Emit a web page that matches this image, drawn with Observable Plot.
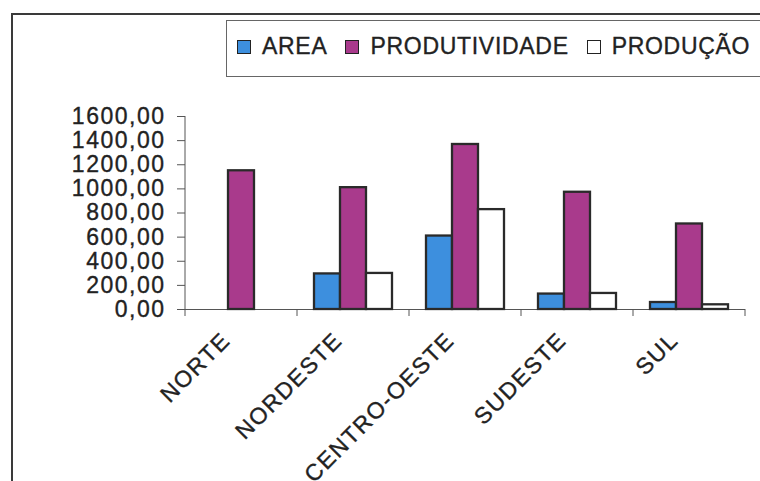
<!DOCTYPE html>
<html>
<head>
<meta charset="utf-8">
<script src="https://cdn.jsdelivr.net/npm/d3@7"></script>
<script src="https://cdn.jsdelivr.net/npm/@observablehq/plot@0.6"></script>
<style>
  html, body { margin: 0; padding: 0; background: #fff; }
  body { width: 760px; height: 481px; position: relative; overflow: hidden; font-family: "Liberation Sans", Arial, sans-serif; }
  #frame { position: absolute; left: 11px; top: 13px; width: 900px; height: 700px; border: 2px solid #3a3a3a; box-sizing: border-box; }
  #chart { position: absolute; left: 0; top: 0; }
  #chart svg text { letter-spacing: 1.5px; fill: #222; stroke: #222; stroke-width: 0.35px; }
  #chart g[aria-label="y-axis tick label"] { font-size: 23px; }
  #chart g[aria-label="fx-axis tick label"] { font-size: 23px; }
  #legend { position: absolute; left: 226px; top: 20px; width: 700px; height: 57px; border: 1px solid #666; box-sizing: border-box; background: #fff;
            display: flex; align-items: center; padding-left: 10px; padding-bottom: 5px; font-size: 23px; letter-spacing: 0.7px; color: #222;
            -webkit-text-stroke: 0.35px #222; }
  .item { display: flex; align-items: center; margin-right: 18px; }
  .sw { width: 14px; height: 14px; border: 1.5px solid #222; box-sizing: border-box; margin-right: 11px; margin-top: 2px; }
</style>
</head>
<body>
<div id="frame"></div>
<div id="chart"></div>
<div id="legend"></div>
<script>
const regions = ["NORTE", "NORDESTE", "CENTRO-OESTE", "SUDESTE", "SUL"];
const series = ["AREA", "PRODUTIVIDADE", "PRODUÇÃO"];
const colors = ["#3d8fde", "#a93a8c", "#ffffff"];
const area = [null, 295, 609, 128, 58];
const produtividade = [1150, 1010, 1368, 972, 709];
const producao = [null, 299, 828, 133, 39];
const yTicks = [0, 200, 400, 600, 800, 1000, 1200, 1400, 1600];

const values = [area, produtividade, producao];
const data = [];
regions.forEach((r, i) => series.forEach((s, j) => data.push({region: r, series: s, value: values[j][i]})));

const fmt = d => d3.format(".2f")(d).replace(".", ",");

const plot = Plot.plot({
  width: 760,
  height: 481,
  marginLeft: 183,
  marginRight: 14,
  marginTop: 116,
  marginBottom: 172,
  style: {fontFamily: "'Liberation Sans', Arial, sans-serif", color: "#222", background: "transparent"},
  fx: {domain: regions, padding: 0, axis: null},
  x: {domain: series, paddingInner: 0, paddingOuter: 0.58, axis: null},
  y: {domain: [0, 1600], axis: null},
  color: {domain: series, range: colors},
  marks: [
    Plot.ruleY([0], {stroke: "#555", strokeWidth: 1}),
    Plot.barY(data.filter(d => d.value != null), {fx: "region", x: "series", y: "value", fill: "series", stroke: "#2a2a2a", strokeWidth: 2.3}),
    Plot.axisY({ticks: yTicks, tickFormat: fmt, tickSize: 8, tickPadding: 12, fontSize: 23, stroke: "#555", label: null}),
    Plot.axisFx({anchor: "bottom", tickRotate: -45, tickSize: 0, tickPadding: 22, dx: -15, dy: 5, fontSize: 23, label: null})
  ]
});

// Excel-style category boundary ticks and value-axis line, from the library's scales
const fxs = plot.scale("fx");
const ys = plot.scale("y");
const y0 = ys.apply(0);
const yTop = ys.apply(yTicks[yTicks.length - 1]);
const bounds = regions.map(r => fxs.apply(r)).concat([fxs.apply(regions[regions.length - 1]) + fxs.bandwidth]);
const svg = d3.select(plot.tagName.toLowerCase() === "svg" ? plot : plot.querySelector("svg"));
const g = svg.append("g");
g.selectAll("line.b").data(bounds).join("line").attr("class", "b")
  .attr("x1", d => d).attr("x2", d => d)
  .attr("y1", y0).attr("y2", y0 + 7)
  .attr("stroke", "#555").attr("stroke-width", 1);
g.append("line")
  .attr("x1", bounds[0]).attr("x2", bounds[0])
  .attr("y1", yTop).attr("y2", y0)
  .attr("stroke", "#555").attr("stroke-width", 1);

document.getElementById("chart").append(plot);

const legend = document.getElementById("legend");
series.forEach((s, j) => {
  const it = document.createElement("div");
  it.className = "item";
  const sw = document.createElement("div");
  sw.className = "sw";
  sw.style.background = colors[j];
  const t = document.createElement("span");
  t.textContent = s;
  it.append(sw, t);
  legend.append(it);
});
</script>
</body>
</html>
